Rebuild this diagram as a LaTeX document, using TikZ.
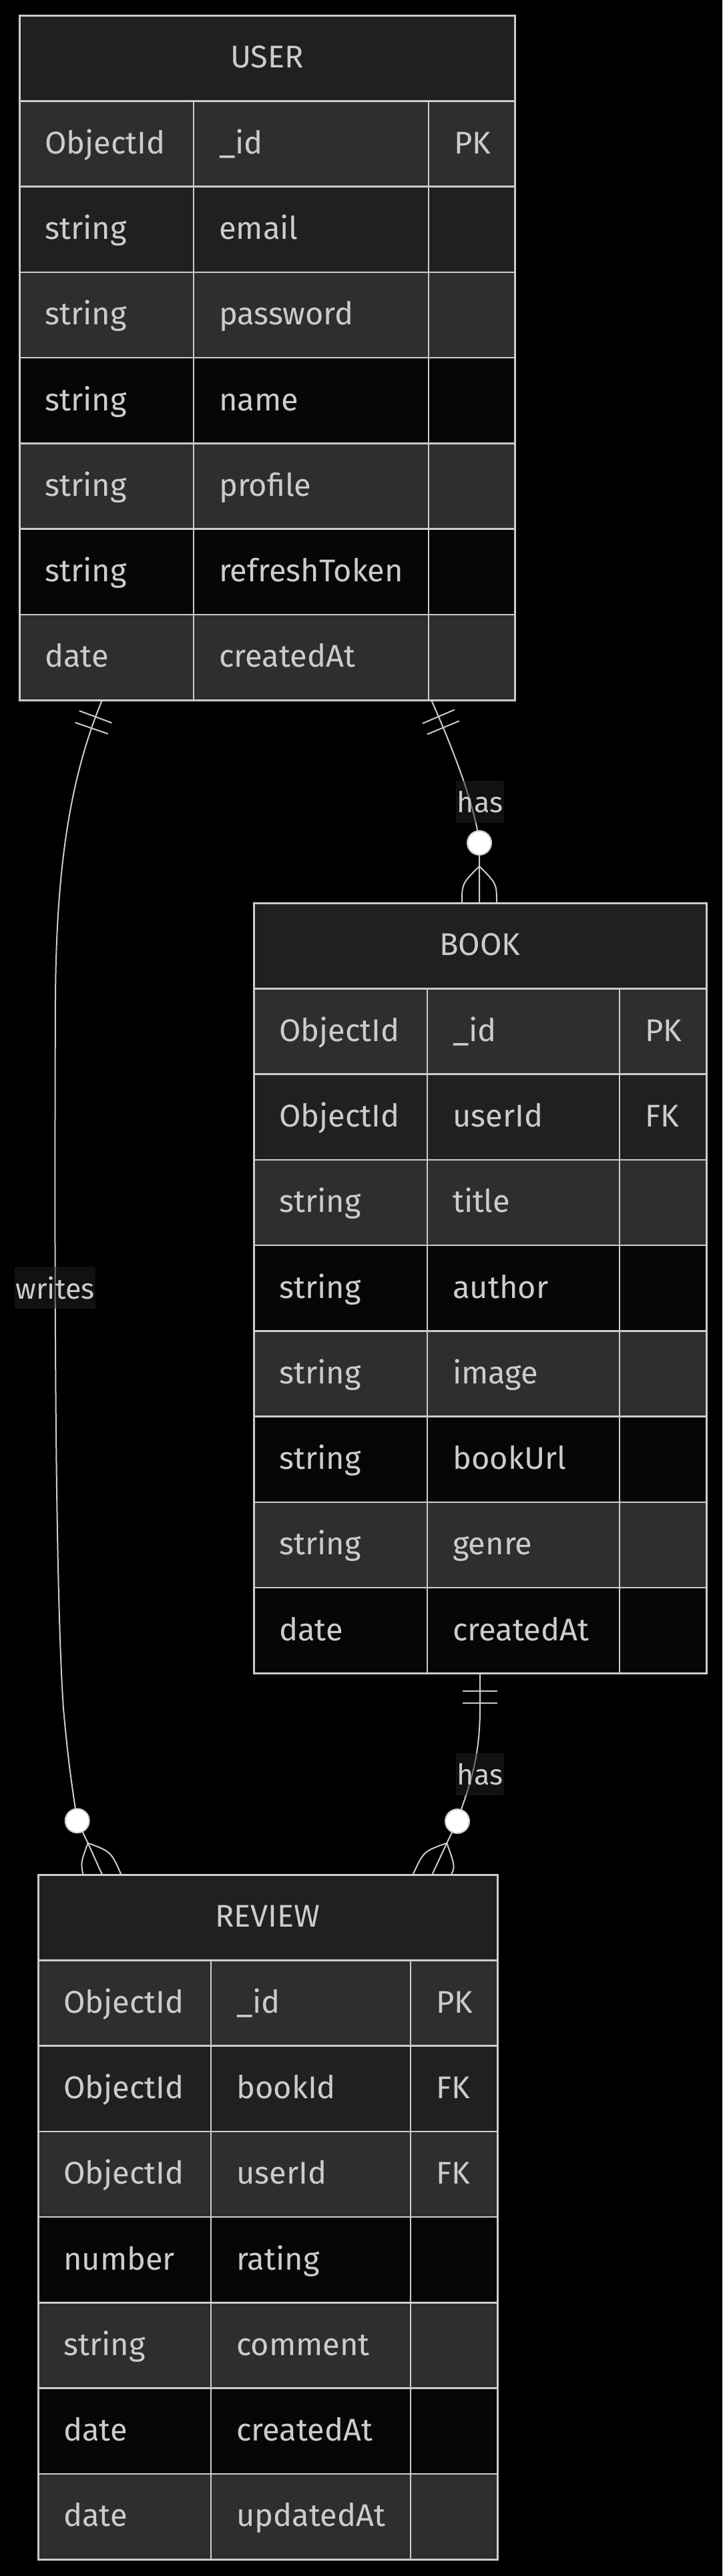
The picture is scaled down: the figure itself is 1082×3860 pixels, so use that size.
\documentclass[tikz,border=0pt]{standalone}
\usepackage{fontspec}
\setmainfont{Fira Sans}
\usetikzlibrary{decorations.markings}
\definecolor{hdrfill}{HTML}{1F2020}
\definecolor{rowlight}{HTML}{2D2F2E}
\definecolor{rowdark}{HTML}{1F2020}
\definecolor{rowblack}{HTML}{060606}
\definecolor{linegray}{HTML}{CCCCCC}
\definecolor{txtgray}{HTML}{CCCCCC}
\definecolor{lblfill}{HTML}{222222}

\tikzset{
  cellline/.style={draw=linegray, line width=2.5pt},
  entframe/.style={draw=linegray, line width=3pt, inner sep=0pt, outer sep=0pt, rectangle},
  celltext/.style={anchor=base west, inner sep=0pt, text=txtgray, font=\fontsize{47}{56}\selectfont},
  titletext/.style={anchor=base, inner sep=0pt, text=txtgray, font=\fontsize{47}{56}\selectfont},
  connline/.style={draw=linegray, line width=2pt},
  onebars/.style={postaction={decorate}, decoration={markings,
      mark=at position 27pt with {\draw[connline] (0pt,-26pt) -- (0pt,26pt);},
      mark=at position 45pt with {\draw[connline] (0pt,-26pt) -- (0pt,26pt);}}},
  zcircle/.style={circle, fill=white, draw=linegray, line width=2pt, minimum size=36pt, inner sep=0pt},
  edgelabel/.style={fill=lblfill, fill opacity=0.5, text opacity=1, text=txtgray,
      font=\fontsize{43}{50}\selectfont, inner xsep=2pt, inner ysep=0pt, minimum height=63pt}
}

\newcommand{\erGeom}[6]{\def\eL{#1}\def\eA{#2}\def\eB{#3}\def\eR{#4}\def\eT{#5}\def\eH{#6}}
\newcommand{\erHead}[2]{%
  \path[fill=hdrfill] (\eL,\eT) rectangle (\eR,{\eT+\eH});
  \node[titletext] (#1-title) at ({(\eL+\eR)/2},{\eT+\eH/2+14.5}) {#2};
}
\newcommand{\erRow}[6]{%
  \path[fill=#3] (\eL,{\eT+#2*\eH}) rectangle (\eR,{\eT+(#2+1)*\eH});
  \draw[cellline] (\eA,{\eT+#2*\eH}) -- (\eA,{\eT+(#2+1)*\eH});
  \draw[cellline] (\eB,{\eT+#2*\eH}) -- (\eB,{\eT+(#2+1)*\eH});
  \draw[cellline] (\eL,{\eT+#2*\eH}) -- (\eR,{\eT+#2*\eH});
  \node[celltext] (#1-type#2) at ({\eL+38},{\eT+(#2+0.5)*\eH+15}) {#4};
  \node[celltext] (#1-field#2) at ({\eA+38},{\eT+(#2+0.5)*\eH+15}) {#5};
  \if\relax\detokenize{#6}\relax\else
  \node[celltext] (#1-key#2) at ({\eB+38},{\eT+(#2+0.5)*\eH+15}) {#6};
  \fi
}
\newcommand{\erFrame}[2]{%
  \node[entframe, minimum width={(\eR-\eL)*1pt}, minimum height={#2*\eH*1pt}, anchor=north west] (#1) at (\eL,\eT) {};
}

\begin{document}
\begin{tikzpicture}[x=1pt, y=-1pt]
\useasboundingbox (0,0) rectangle (1082,3860);
\fill[black] (0,0) rectangle (1082,3860);

% USER
\erGeom{29}{290}{642}{771}{23}{128.25}
\erHead{user}{USER}
\erRow{user}{1}{rowlight}{ObjectId}{\_id}{PK}
\erRow{user}{2}{rowdark}{string}{email}{}
\erRow{user}{3}{rowlight}{string}{password}{}
\erRow{user}{4}{rowblack}{string}{name}{}
\erRow{user}{5}{rowlight}{string}{profile}{}
\erRow{user}{6}{rowblack}{string}{refreshToken}{}
\erRow{user}{7}{rowlight}{date}{createdAt}{}
\erFrame{user}{8}

% BOOK
\erGeom{380}{640}{928}{1058}{1353}{128.25}
\erHead{book}{BOOK}
\erRow{book}{1}{rowlight}{ObjectId}{\_id}{PK}
\erRow{book}{2}{rowdark}{ObjectId}{userId}{FK}
\erRow{book}{3}{rowlight}{string}{title}{}
\erRow{book}{4}{rowblack}{string}{author}{}
\erRow{book}{5}{rowlight}{string}{image}{}
\erRow{book}{6}{rowblack}{string}{bookUrl}{}
\erRow{book}{7}{rowlight}{string}{genre}{}
\erRow{book}{8}{rowblack}{date}{createdAt}{}
\erFrame{book}{9}

% REVIEW
\erGeom{57}{316}{615}{745}{2809}{128.25}
\erHead{review}{REVIEW}
\erRow{review}{1}{rowlight}{ObjectId}{\_id}{PK}
\erRow{review}{2}{rowdark}{ObjectId}{bookId}{FK}
\erRow{review}{3}{rowlight}{ObjectId}{userId}{FK}
\erRow{review}{4}{rowblack}{number}{rating}{}
\erRow{review}{5}{rowlight}{string}{comment}{}
\erRow{review}{6}{rowblack}{date}{createdAt}{}
\erRow{review}{7}{rowlight}{date}{updatedAt}{}
\erFrame{review}{8}

% connector coordinates
\coordinate (uHasS) at (646,1049);
\coordinate (c1) at (718,1263);
\coordinate (v1) at (718,1298);
\coordinate (bookTop) at (718,1353);

\coordinate (uWrS) at (153,1049);
\coordinate (c2) at (115.7,2728.3);
\coordinate (v2) at (131.7,2761.7);
\coordinate (revTopL) at (153,2809);

\coordinate (bHasS) at (719,2507.25);
\coordinate (c3) at (685,2729);
\coordinate (v3) at (669.3,2761.7);
\coordinate (revTopR) at (647.3,2809);

% USER -> BOOK (has)
\draw[connline, onebars] (uHasS) .. controls (680,1125) and (712,1210) .. (c1) -- (v1) -- (bookTop);
\draw[connline] (v1) .. controls (692,1324) .. (692,1353);
\draw[connline] (v1) .. controls (744,1324) .. (744,1353);
\node[zcircle] (zc1) at (c1) {};
\node[edgelabel] (lblHas1) at (719,1201.5) {has};

% USER -> REVIEW (writes)
\draw[connline, onebars] (uWrS) .. controls (105,1165) and (84,1300) .. (83,1500)
   .. controls (81,2000) and (84,2400) .. (95,2560)
   .. controls (103,2650) and (110,2690) .. (c2) -- (v2) -- (revTopL);
\draw[connline] (v2) .. controls (166.2,2774.4) .. (181.6,2809);
\draw[connline] (v2) .. controls (121,2791) .. (124.4,2809);
\node[zcircle] (zc2) at (c2) {};
\node[edgelabel] (lblWrites) at (82.5,1929.5) {writes};

% BOOK -> REVIEW (has)
\draw[connline, onebars] (bHasS) -- (719,2560) .. controls (719,2640) and (701,2680) .. (c3) -- (v3) -- (revTopR);
\draw[connline] (v3) .. controls (634.6,2774) .. (618.5,2809);
\draw[connline] (v3) .. controls (681.6,2796.4) .. (676.1,2809);
\node[zcircle] (zc3) at (c3) {};
\node[edgelabel] (lblHas2) at (719,2658.5) {has};
\end{tikzpicture}
\end{document}
